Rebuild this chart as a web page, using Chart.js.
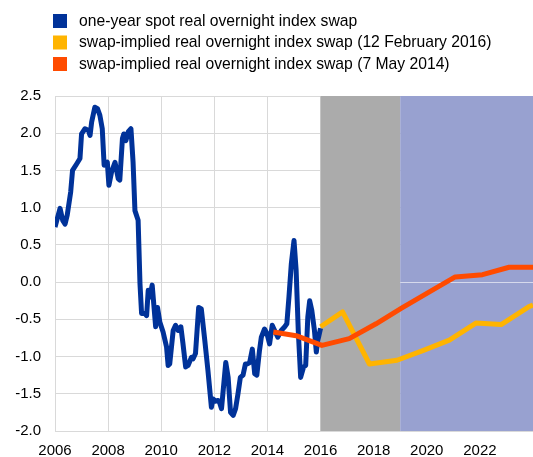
<!DOCTYPE html>
<html>
<head>
<meta charset="utf-8">
<script src="https://cdn.jsdelivr.net/npm/chart.js@4.4.0/dist/chart.umd.min.js"></script>
<style>
  html, body { margin: 0; padding: 0; background: #fff; }
  canvas { display: block; }
</style>
</head>
<body>
<canvas id="myChart" width="533" height="457" style="width:533px;height:457px"></canvas>
<script>
// one-year spot real OIS (decimal years / values)
var spotDates = [2006.0, 2006.19, 2006.29, 2006.38, 2006.46, 2006.59, 2006.66, 2006.82, 2006.94, 2007.0,
  2007.13, 2007.25, 2007.32, 2007.38, 2007.5, 2007.6, 2007.69, 2007.78, 2007.85, 2007.97,
  2008.03, 2008.13, 2008.26, 2008.38, 2008.44, 2008.54, 2008.59, 2008.67, 2008.76, 2008.86,
  2008.94, 2009.01, 2009.13, 2009.2, 2009.26, 2009.38, 2009.45, 2009.51, 2009.57, 2009.66,
  2009.73, 2009.79, 2009.86, 2009.95, 2010.07, 2010.2, 2010.26, 2010.32, 2010.45, 2010.54,
  2010.64, 2010.74, 2010.82, 2010.92, 2011.01, 2011.14, 2011.2, 2011.29, 2011.41, 2011.51,
  2011.64, 2011.76, 2011.89, 2011.95, 2012.05, 2012.14, 2012.2, 2012.27, 2012.43, 2012.52,
  2012.61, 2012.71, 2012.8, 2012.89, 2012.98, 2013.08, 2013.17, 2013.24, 2013.33, 2013.43,
  2013.52, 2013.6, 2013.7, 2013.77, 2013.89, 2013.98, 2014.08, 2014.18, 2014.27, 2014.39,
  2014.52, 2014.65, 2014.73, 2014.81, 2014.9, 2015.0, 2015.08, 2015.16, 2015.25, 2015.36,
  2015.44, 2015.52, 2015.59, 2015.67, 2015.77, 2015.84, 2015.9, 2016.0];
var spotValues = [0.74, 0.99, 0.83, 0.78, 0.90, 1.21, 1.50, 1.59, 1.66, 1.99,
  2.06, 2.04, 1.97, 2.15, 2.35, 2.33, 2.24, 2.06, 1.57, 1.61,
  1.30, 1.48, 1.61, 1.39, 1.37, 1.93, 1.99, 1.90, 2.02, 2.06,
  1.61, 0.96, 0.83, -0.02, -0.42, -0.42, -0.45, -0.11, -0.20, -0.04,
  -0.34, -0.60, -0.34, -0.54, -0.67, -0.87, -1.12, -1.10, -0.65, -0.58,
  -0.65, -0.60, -0.83, -1.14, -1.12, -1.01, -1.03, -0.96, -0.34, -0.36,
  -0.78, -1.19, -1.68, -1.57, -1.60, -1.59, -1.62, -1.70, -1.08, -1.28,
  -1.75, -1.79, -1.70, -1.50, -1.28, -1.25, -1.10, -1.10, -1.08, -0.90,
  -1.23, -1.25, -0.92, -0.74, -0.63, -0.69, -0.83, -0.58, -0.65, -0.74,
  -0.65, -0.60, -0.56, -0.20, 0.25, 0.56, 0.16, -0.65, -1.28, -1.14,
  -1.12, -0.47, -0.25, -0.38, -0.65, -0.94, -0.78, -0.62];

// swap-implied path, 12 February 2016
var feb2016Dates = [2016.0, 2016.83, 2017.84, 2018.88, 2019.85, 2020.85, 2021.85, 2022.8, 2023.85, 2024.0];
var feb2016Values = [-0.60, -0.40, -1.10, -1.05, -0.92, -0.78, -0.55, -0.57, -0.33, -0.31];

// swap-implied path, 7 May 2014
var may2014Dates = [2014.22, 2015.08, 2016.05, 2017.08, 2018.09, 2019.05, 2020.05, 2021.07, 2022.1, 2023.1, 2024.0];
var may2014Values = [-0.67, -0.72, -0.85, -0.76, -0.56, -0.35, -0.14, 0.07, 0.10, 0.20, 0.20];

var legendLabels = ['one-year spot real overnight index swap',
  'swap-implied real overnight index swap (12 February 2016)',
  'swap-implied real overnight index swap (7 May 2014)'];
var seriesColors = ['#003299', '#ffb400', '#ff4b00'];

var yTicks = [-2.0, -1.5, -1.0, -0.5, 0.0, 0.5, 1.0, 1.5, 2.0, 2.5];
var xTicks = [2006, 2008, 2010, 2012, 2014, 2016, 2018, 2020, 2022];

// shaded periods
var grayFrom = 2016, grayTo = 2019, blueFrom = 2019, blueTo = 2024;

function toPoints(xs, ys) {
  return xs.map(function (d, i) { return { x: d, y: ys[i] }; });
}

var FONT = '"Liberation Sans", Arial, sans-serif';

// background bands and zero line in the projection period
var shading = {
  id: 'shading',
  beforeDatasetsDraw: function (chart) {
    var ctx = chart.ctx, a = chart.chartArea, x = chart.scales.x, y = chart.scales.y;
    ctx.save();
    ctx.fillStyle = '#ababab';
    ctx.fillRect(x.getPixelForValue(grayFrom), a.top, x.getPixelForValue(grayTo) - x.getPixelForValue(grayFrom), a.bottom - a.top);
    ctx.fillStyle = '#98a1d0';
    ctx.fillRect(x.getPixelForValue(blueFrom), a.top, x.getPixelForValue(blueTo) - x.getPixelForValue(blueFrom), a.bottom - a.top);
    var y0 = Math.round(y.getPixelForValue(0)) + 0.5;
    ctx.strokeStyle = 'rgba(255,255,255,0.6)';
    ctx.lineWidth = 1;
    ctx.beginPath();
    ctx.moveTo(x.getPixelForValue(blueFrom), y0);
    ctx.lineTo(x.getPixelForValue(blueTo), y0);
    ctx.stroke();
    ctx.restore();
  }
};

// legend with square markers, drawn by hand
var squareLegend = {
  id: 'squareLegend',
  afterDraw: function (chart) {
    var ctx = chart.ctx;
    ctx.save();
    ctx.font = '15.7px ' + FONT;
    ctx.textBaseline = 'middle';
    for (var i = 0; i < legendLabels.length; i++) {
      var top = 14 + i * 21.5;
      ctx.fillStyle = seriesColors[i];
      ctx.fillRect(53, top, 14, 14);
      ctx.fillStyle = '#000';
      ctx.fillText(legendLabels[i], 79, top + 7.5);
    }
    ctx.restore();
  }
};

const config = {
  type: 'line',
  data: {
    datasets: [
      { label: legendLabels[0], data: toPoints(spotDates, spotValues), borderColor: seriesColors[0], borderWidth: 5, order: 3 },
      { label: legendLabels[1], data: toPoints(feb2016Dates, feb2016Values), borderColor: seriesColors[1], borderWidth: 5, order: 2 },
      { label: legendLabels[2], data: toPoints(may2014Dates, may2014Values), borderColor: seriesColors[2], borderWidth: 5, order: 1 }
    ]
  },
  options: {
    responsive: false,
    animation: false,
    layout: { padding: { top: 96, right: 0, bottom: 0, left: 0 } },
    elements: {
      point: { radius: 0 },
      line: { tension: 0, borderJoinStyle: 'round', borderCapStyle: 'butt', fill: false }
    },
    plugins: { legend: { display: false }, tooltip: { enabled: false } },
    scales: {
      x: {
        type: 'linear',
        min: 2006,
        max: 2024,
        afterBuildTicks: function (s) { s.ticks = xTicks.map(function (v) { return { value: v }; }); },
        afterFit: function (s) { s.height = 26; },
        grid: { color: '#d9d9d9', lineWidth: 1, drawTicks: false },
        border: { display: false },
        ticks: { padding: 11, maxRotation: 0, autoSkip: false, color: '#000', font: { family: FONT, size: 15 },
          callback: function (v) { return String(v); } }
      },
      y: {
        min: -2.0,
        max: 2.5,
        afterBuildTicks: function (s) { s.ticks = yTicks.map(function (v) { return { value: v }; }); },
        afterFit: function (s) { s.width = 55; },
        grid: { color: '#d9d9d9', lineWidth: 1, drawTicks: false },
        border: { display: false },
        ticks: { padding: 14, autoSkip: false, color: '#000', font: { family: FONT, size: 15 },
          callback: function (v) { return v.toFixed(1); } }
      }
    }
  },
  plugins: [shading, squareLegend]
};

const myChart = new Chart(document.getElementById('myChart'), config);
</script>
</body>
</html>
